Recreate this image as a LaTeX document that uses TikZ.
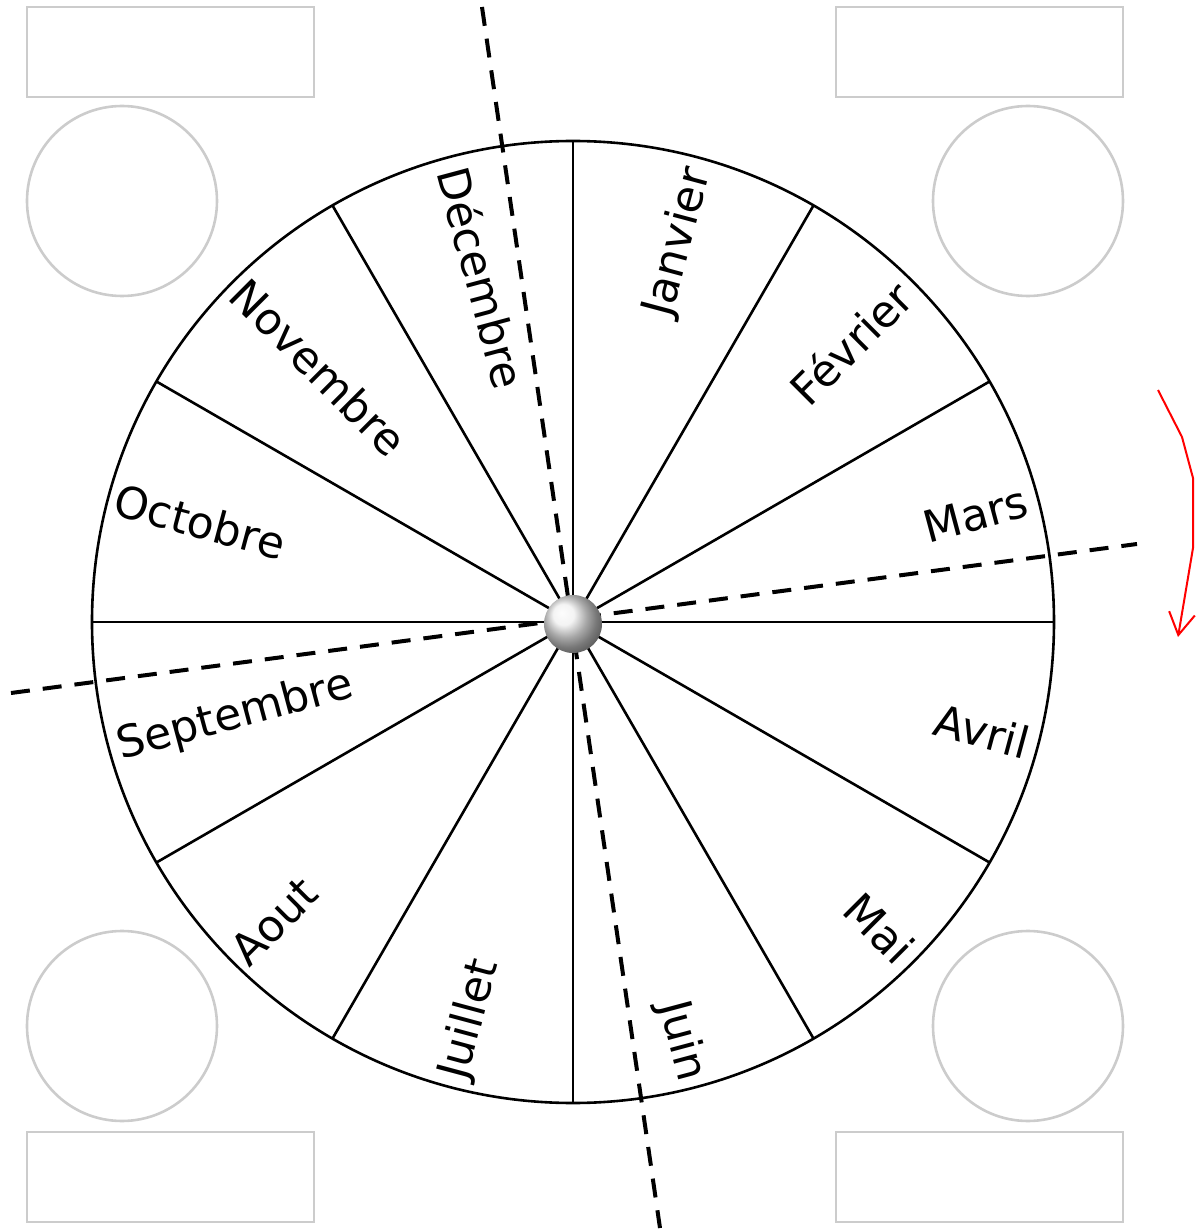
\documentclass[tikz,border=0pt]{standalone}
\usepackage{fontspec}
\setmainfont{DejaVu Sans}
\usetikzlibrary{arrows.meta}

\begin{document}
\begin{tikzpicture}[x=0.5pt,y=0.5pt,
    wheel/.style={line width=1.3pt},
    month/.style={inner sep=0pt,font=\fontsize{22pt}{26pt}\selectfont,text height=16pt,text depth=0pt},
    guide/.style={line width=2pt,dash pattern=on 9.5pt off 6.5pt},
    blank/.style={draw=black!20,line width=1.3pt}]
    \useasboundingbox (-573,-610) rectangle (628,622);

    % Corner boxes
    \draw[blank] (-546,615) rectangle (-259,525);
    \draw[blank] (263,615) rectangle (550,525);
    \draw[blank] (-546,-510) rectangle (-259,-600);
    \draw[blank] (263,-510) rectangle (550,-600);
    \draw[blank] (-451,421) circle (95);
    \draw[blank] (455,421) circle (95);
    \draw[blank] (-451,-404) circle (95);
    \draw[blank] (455,-404) circle (95);

    % Wheel
    \draw[wheel] (0,0) circle (481);
    \draw[wheel] (0,0) -- (0:481);
    \draw[wheel] (0,0) -- (30:481);
    \draw[wheel] (0,0) -- (60:481);
    \draw[wheel] (0,0) -- (90:481);
    \draw[wheel] (0,0) -- (120:481);
    \draw[wheel] (0,0) -- (150:481);
    \draw[wheel] (0,0) -- (180:481);
    \draw[wheel] (0,0) -- (210:481);
    \draw[wheel] (0,0) -- (240:481);
    \draw[wheel] (0,0) -- (270:481);
    \draw[wheel] (0,0) -- (300:481);
    \draw[wheel] (0,0) -- (330:481);

    % Months, right half
    \node[month,anchor=east,rotate=75] (jan) at (75:470) {Janvier};
    \node[month,anchor=east,rotate=45] (feb) at (45:470) {Février};
    \node[month,anchor=east,rotate=15] (mar) at (15:470) {Mars};
    \node[month,anchor=east,rotate=-15] (apr) at (-15:472) {Avril};
    \node[month,anchor=east,rotate=-45] (may) at (-45:472) {Mai};
    \node[month,anchor=east,rotate=-75] (jun) at (-75:474) {Juin};

    % Months, left half
    \node[month,anchor=west,rotate=75] (jul) at (255:472) {Juillet};
    \node[month,anchor=west,rotate=45] (aug) at (225:474) {Aout};
    \node[month,anchor=west,rotate=15] (sep) at (195:472) {Septembre};
    \node[month,anchor=west,rotate=-15] (oct) at (165:474) {Octobre};
    \node[month,anchor=west,rotate=-45] (nov) at (135:474) {Novembre};
    \node[month,anchor=west,rotate=-75] (dec) at (105:470) {Décembre};

    % Dashed lines
    \draw[guide] (-91,615) -- (87,-606);
    \draw[guide] (-562,-71) -- (564,78);

    % Knob
    \shade[ball color=gray!12] (0,-2) circle (29);

    % Turning arrow
    \draw[red,line width=1pt,-{Straight Barb[length=11pt,width=13pt]}]
        (585,232) -- (609,185) -- (620,144) -- (620,74) -- (605,-15);
\end{tikzpicture}
\end{document}
